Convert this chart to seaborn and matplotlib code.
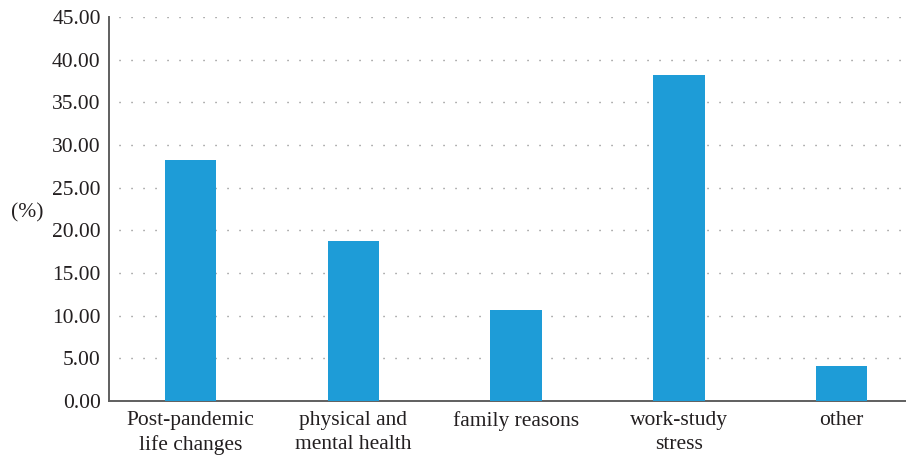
import matplotlib
matplotlib.use("Agg")
import matplotlib.pyplot as plt
import seaborn as sns
import pandas as pd

categories = ["Post-pandemic\nlife changes", "physical and\nmental health",
              "family reasons", "work-study\nstress", "other"]
percentages = [28.2, 18.8, 10.7, 38.2, 4.1]
yticks = [0, 5, 10, 15, 20, 25, 30, 35, 40, 45]

sns.set_theme(style="white")
plt.rcParams["font.family"] = ["Liberation Serif", "DejaVu Serif"]

df = pd.DataFrame({"reason": categories, "pct": percentages})

fig = plt.figure(figsize=(9.06, 4.55), dpi=100)
ax = fig.add_axes([109 / 906, 54 / 455, 1 - 109 / 906 + 0.001, 384 / 455])

sns.barplot(data=df, x="reason", y="pct", color="#1E9CD7", width=0.315,
            saturation=1, linewidth=0, ax=ax, zorder=3)

ax.set_ylim(0, 45)
ax.set_xlim(-0.5, 4.40)
ax.set_yticks(yticks)
ax.set_yticklabels([f"{v:.2f}" for v in yticks])
ax.set_xlabel("")
ax.set_ylabel("(%)", rotation=0, fontsize=15.5, color="#231f20", va="center", ha="center")
ax.yaxis.set_label_coords(-0.1028, 0.49)

ax.tick_params(axis="both", length=0, labelsize=15.5, colors="#231f20")
ax.tick_params(axis="y", pad=6)
ax.tick_params(axis="x", pad=7.5)
for lbl in ax.get_xticklabels():
    lbl.set_linespacing(1.3)

for y in yticks[1:]:
    ax.axhline(y, color="#8a8a8a", linewidth=1.0, linestyle=(1.5, (0.9, 7.74)), zorder=1)

for side in ["top", "right"]:
    ax.spines[side].set_visible(False)
for side in ["left", "bottom"]:
    ax.spines[side].set_color("#5f5f5f")
    ax.spines[side].set_linewidth(1.4)

fig.savefig("out.png", dpi=100)
